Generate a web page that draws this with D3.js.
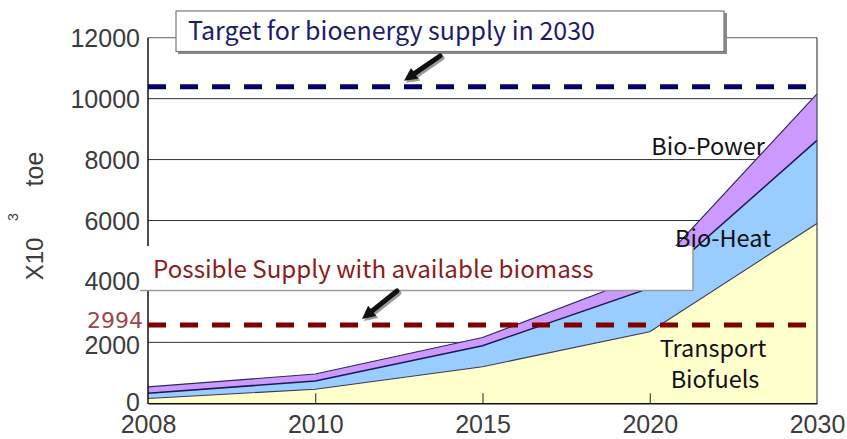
<!DOCTYPE html>
<html><head><meta charset="utf-8">
<script src="https://cdn.jsdelivr.net/npm/d3@7"></script>
<style>html,body{margin:0;padding:0;background:#fff;}svg{display:block;}</style>
</head><body>
<svg id="c" width="847" height="439"></svg>
<script>
// ---- data ----
const years = ["2008", "2010", "2015", "2020", "2030"];
const transportBiofuels = [160, 460, 1200, 2350, 5900];
const bioHeat = [170, 270, 690, 1430, 2730];
const bioPower = [210, 230, 270, 460, 1530];
const yTicks = [0, 2000, 4000, 6000, 8000, 10000, 12000];
const targetLevel = 10390;          // drawn level of target dashed line
const possibleLevel = 2570;         // drawn level of possible-supply dashed line
const possibleLabel = "2994";
const seriesNames = ["Transport", "Heat", "Power"];

// ---- layout ----
const svg = d3.select("#c");
const L = 148, R = 817, T = 37.7, B = 403.3;
const x = d3.scalePoint().domain(years).range([L, R]);
const y = d3.scaleLinear().domain([0, 12000]).range([B, T]);
const tickFont = "Liberation Sans, Arial, sans-serif";
const labFont = "Noto Sans CJK KR, Noto Sans, sans-serif";

const rows = years.map((yr, i) => ({year: yr, Transport: transportBiofuels[i], Heat: bioHeat[i], Power: bioPower[i]}));
const stack = d3.stack().keys(seriesNames)(rows);
const fills = {Transport: "#ffffcc", Heat: "#99ccff", Power: "#cc99ff"};
const strokes = {Transport: "#3a3a50", Heat: "#1a1a4d", Power: "#2a2a5a"};

// gridlines
svg.append("g").selectAll("line").data(yTicks.filter(v => v > 0 && v < 12000)).join("line")
  .attr("x1", L).attr("x2", R).attr("y1", d => y(d)).attr("y2", d => y(d))
  .attr("stroke", "#333").attr("stroke-width", 1);
svg.append("line").attr("x1", L).attr("x2", R).attr("y1", y(12000)).attr("y2", y(12000))
  .attr("stroke", "#808080").attr("stroke-width", 1.2);

// areas
const area = d3.area().x(d => x(d.data.year)).y0(d => y(d[0])).y1(d => y(d[1]));
svg.append("g").selectAll("path").data(stack).join("path")
  .attr("d", area).attr("fill", d => fills[d.key]);
const topLine = d3.line().x(d => x(d.data.year)).y(d => y(d[1]));
svg.append("g").selectAll("path").data(stack).join("path")
  .attr("d", topLine).attr("fill", "none")
  .attr("stroke", d => strokes[d.key]).attr("stroke-width", d => d.key === "Heat" ? 1.5 : 1.1);

// right border
svg.append("line").attr("x1", R).attr("x2", R).attr("y1", y(12000)).attr("y2", B)
  .attr("stroke", "#444").attr("stroke-width", 1.2);

// axes
const xAxis = svg.append("g").attr("transform", `translate(0,${B})`)
  .call(d3.axisBottom(x).tickSizeInner(-10).tickSizeOuter(0).tickPadding(12));
xAxis.select(".domain").attr("stroke", "#111").attr("stroke-width", 1.6);
xAxis.selectAll(".tick line").attr("stroke", "#222");
xAxis.selectAll(".tick").filter(d => d === years[0] || d === years[years.length - 1]).select("line").remove();
xAxis.selectAll("text").attr("font-family", tickFont).attr("font-size", 25).attr("fill", "#3c3c3c");

svg.append("line").attr("x1", L).attr("x2", L).attr("y1", y(12000)).attr("y2", B + 0.8)
  .attr("stroke", "#111").attr("stroke-width", 1.5);

svg.append("g").selectAll("text").data(yTicks).join("text")
  .attr("x", 140).attr("y", d => y(d) + (d === 2000 ? 3 : 0) - (d === 0 ? 1.5 : 0)).attr("dy", "0.36em")
  .attr("text-anchor", "end").attr("font-family", tickFont)
  .attr("font-size", 25).attr("fill", "#3c3c3c").text(d => d);

// possible-supply box (white) covering part of plot
svg.append("rect").attr("x", 140).attr("y", 246).attr("width", 553).attr("height", 44.5)
  .attr("fill", "#fff");
svg.append("path").attr("d", "M693,246 V290.5 H140").attr("fill", "none").attr("stroke", "#9a9a9a").attr("stroke-width", 1.5);

// dashed reference lines
svg.append("line").attr("x1", L).attr("x2", R).attr("y1", y(targetLevel)).attr("y2", y(targetLevel))
  .attr("stroke", "#000066").attr("stroke-width", 5).attr("stroke-dasharray", "18,14");
svg.append("line").attr("x1", L).attr("x2", R).attr("y1", y(possibleLevel)).attr("y2", y(possibleLevel))
  .attr("stroke", "#800000").attr("stroke-width", 5).attr("stroke-dasharray", "18,14");
svg.append("text").attr("x", 143).attr("y", y(possibleLevel) - 4.5).attr("dy", "0.36em")
  .attr("text-anchor", "end").attr("font-family", "DejaVu Sans, sans-serif")
  .attr("font-size", 22).attr("fill", "#a0454d").text(possibleLabel);

// target box
svg.append("rect").attr("x", 178).attr("y", 13).attr("width", 549).attr("height", 41).attr("fill", "#8a8a8a");
svg.append("rect").attr("x", 176).attr("y", 11).attr("width", 548).attr("height", 40.5)
  .attr("fill", "#fff").attr("stroke", "#7a7a7a").attr("stroke-width", 1.2);
svg.append("text").attr("x", 188).attr("y", 40).attr("font-family", labFont)
  .attr("font-size", 25).attr("fill", "#1c1c6e").text("Target for bioenergy supply in 2030");
svg.append("text").attr("x", 153).attr("y", 278).attr("font-family", labFont)
  .attr("font-size", 24.2).attr("fill", "#8b1c1c").text("Possible Supply with available biomass");

// series labels
const lab = (t, xx, yy, anchor) => svg.append("text").attr("x", xx).attr("y", yy)
  .attr("text-anchor", anchor).attr("font-family", labFont)
  .attr("font-size", 23.5).attr("fill", "#111").text(t);
lab("Bio-Power", 765, 155, "end");
lab("Bio-Heat", 771, 247, "end");
lab("Transport", 713, 357, "middle");
lab("Biofuels", 715, 388, "middle");

// y axis label (pieces placed along the rotated baseline)
const ylab = (t, cy, size) => svg.append("text").attr("transform", `translate(43,${cy}) rotate(-90)`)
  .attr("text-anchor", "middle").attr("font-family", tickFont)
  .attr("font-size", size).attr("fill", "#3c3c3c").text(t);
ylab("X10", 259, 24);
svg.append("text").attr("transform", "translate(18,217) rotate(-90)")
  .attr("text-anchor", "middle").attr("font-family", tickFont)
  .attr("font-size", 14).attr("fill", "#3c3c3c").text("3");
ylab("toe", 169, 25);

// arrows
function arrow(x1, y1, x2, y2) {
  const g = svg.append("g");
  const ang = Math.atan2(y2 - y1, x2 - x1);
  const hl = 13, hw = 6.5;
  const bx = x2 - hl * Math.cos(ang), by = y2 - hl * Math.sin(ang);
  const px = -Math.sin(ang), py = Math.cos(ang);
  const head = `M${x2},${y2} L${bx + px * hw},${by + py * hw} L${bx - px * hw},${by - py * hw} Z`;
  [[2, "#9a9a9a"], [0, "#111"]].forEach(([o, c]) => {
    g.append("line").attr("x1", x1 + o).attr("y1", y1 + o).attr("x2", bx + o).attr("y2", by + o)
      .attr("stroke", c).attr("stroke-width", 5).attr("stroke-linecap", "round");
    g.append("path").attr("d", head).attr("transform", `translate(${o},${o})`).attr("fill", c);
  });
}
arrow(440, 56, 404, y(targetLevel) - 6);
arrow(397, 291, 362, y(possibleLevel) - 6);
</script>
</body></html>
